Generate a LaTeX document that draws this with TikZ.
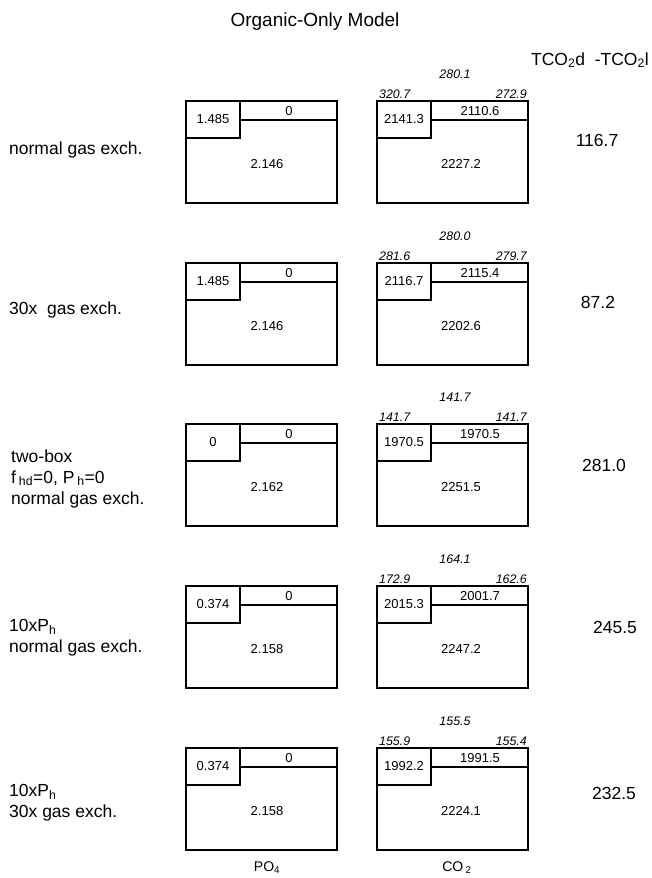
\documentclass[tikz,border=0pt]{standalone}
\usepackage{fontspec}
\setmainfont{Liberation Sans}
\begin{document}
\begin{tikzpicture}[x=1pt, y=-1pt,
  box/.style={line width=2.5pt, line cap=rect},
  num/.style={font=\fontsize{13}{15}\selectfont, inner sep=0pt},
  flux/.style={font=\fontsize{12.4}{14}\selectfont\itshape, inner sep=0pt},
  big/.style={font=\fontsize{17.5}{21}\selectfont, inner sep=0pt},
  lab/.style={font=\fontsize{17.5}{21}\selectfont, anchor=west, align=left, inner sep=0pt}]
\useasboundingbox (0,0) rectangle (651,878);
\node[font=\fontsize{19}{22}\selectfont, inner sep=0pt] (title) at (315,22) {Organic-Only Model};
\node[big, anchor=east] (head) at (649,60) {TCO\textsubscript{2}d\ \ -TCO\textsubscript{2}l};
\foreach \r/\T/\pa/\pb/\pc/\ca/\cb/\cc/\ft/\fl/\fr/\dif/\dx/\dy in {
 1/101/1.485/0/2.146/2141.3/2110.6/2227.2/280.1/320.7/272.9/116.7/597/39,
 2/263/1.485/0/2.146/2116.7/2115.4/2202.6/280.0/281.6/279.7/87.2/598/39,
 3/424/0/0/2.162/1970.5/1970.5/2251.5/141.7/141.7/141.7/281.0/604/41,
 4/586/0.374/0/2.158/2015.3/2001.7/2247.2/164.1/172.9/162.6/245.5/615/41,
 5/748/0.374/0/2.158/1992.2/1991.5/2224.1/155.5/155.9/155.4/232.5/614/45}
{
\begin{scope}[shift={(0,\T)}]
\draw[box] (186,0) rectangle (337,102);
\draw[box] (240,0) |- (186,37);
\draw[box] (240,19) -- (337,19);
\node[num] (ps\r) at (213,18.5) {\pa};
\node[num] (pt\r) at (289,10) {\pb};
\node[num] (pm\r) at (267,63) {\pc};
\draw[box] (377,0) rectangle (528,102);
\draw[box] (431,0) |- (377,37);
\draw[box] (431,19) -- (528,19);
\node[num] (cs\r) at (404,18.5) {\ca};
\node[num] (ct\r) at (480,10) {\cb};
\node[num] (cm\r) at (461,63) {\cc};
\node[flux] (ft\r) at (455,-27) {\ft};
\node[flux, anchor=west] (fl\r) at (379,-7) {\fl};
\node[flux, anchor=east] (fr\r) at (527,-7) {\fr};
\node[big] (d\r) at (\dx,\dy) {\dif};
\end{scope}
}
\node[lab] (l1) at (9,150) {normal gas exch.};
\node[lab] (l2) at (9,310) {30x\ \ gas exch.};
\node[lab] (l3) at (11,478.5) {two-box\\f\,\textsubscript{hd}=0, P\,\textsubscript{h}=0\\normal gas exch.};
\node[lab] (l4) at (9,637.5) {10xP\textsubscript{h}\\normal gas exch.};
\node[lab] (l5) at (9,803) {10xP\textsubscript{h}\\30x gas exch.};
\node[font=\fontsize{14}{16}\selectfont, inner sep=0pt] (po) at (267,868) {PO\textsubscript{4}};
\node[font=\fontsize{14}{16}\selectfont, inner sep=0pt] (co) at (457,868) {CO\,\textsubscript{2}};
\end{tikzpicture}
\end{document}
